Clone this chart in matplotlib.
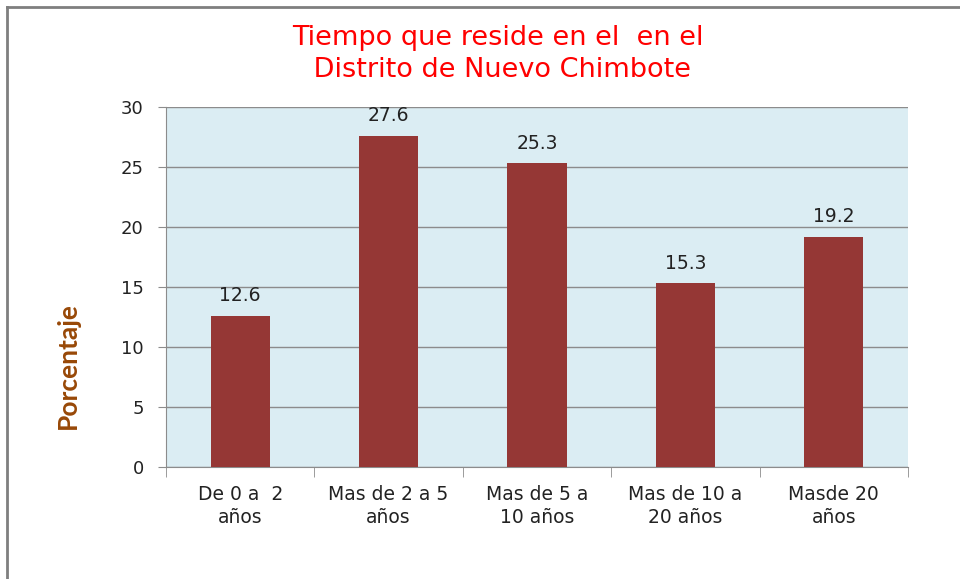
import matplotlib.pyplot as plt
from matplotlib.lines import Line2D

categorias = ["De 0 a  2\naños", "Mas de 2 a 5\naños", "Mas de 5 a\n10 años",
              "Mas de 10 a\n20 años", "Masde 20\naños"]
porcentajes = [12.6, 27.6, 25.3, 15.3, 19.2]
yticks = [0, 5, 10, 15, 20, 25, 30]

fig = plt.figure(figsize=(9.6, 5.79), dpi=100)
ax = fig.add_axes([0.1729, 0.1934, 0.7729, 0.6218])
ax.set_facecolor("#DBEDF3")

x = list(range(len(porcentajes)))
ax.bar(x, porcentajes, width=0.4, color="#953735", zorder=3)
for xi, v in zip(x, porcentajes):
    ax.text(xi, v + 0.9, str(v), ha="center", va="bottom", fontsize=13.5,
            family="DejaVu Sans", color="#222222")

ax.set_xlim(-0.5, len(porcentajes) - 0.5)
ax.set_ylim(0, 30)
ax.set_yticks(yticks)
ax.set_yticklabels([str(t) for t in yticks], fontsize=13, family="DejaVu Sans",
                   color="#222222")
ax.yaxis.grid(True, color="#8C8C8C", linewidth=1, zorder=1)
ax.set_axisbelow(True)

ax.set_xticks(x)
ax.set_xticklabels(categorias, fontsize=13.5, family="DejaVu Sans",
                   linespacing=1.25, color="#222222")
ax.tick_params(axis="x", length=0, pad=13)
ax.set_xticks([i + 0.5 for i in range(-1, len(porcentajes))], minor=True)
ax.tick_params(axis="x", which="minor", length=7, color="#8C8C8C")
ax.tick_params(axis="y", length=6, color="#8C8C8C", pad=10)

for s in ["top", "right"]:
    ax.spines[s].set_visible(False)
for s in ["left", "bottom"]:
    ax.spines[s].set_color("#8C8C8C")

fig.text(68 / 960, 1 - 366 / 579, "Porcentaje", rotation=90, ha="center",
         va="center", fontsize=19, fontweight="bold", family="Lato",
         color="#984807")

fig.text(0.519, 0.907, "Tiempo que reside en el  en el\n Distrito de Nuevo Chimbote",
         ha="center", va="center", fontsize=19.5, family="DejaVu Sans",
         color="#FF0000", linespacing=1.3)

# marco del grafico
fig.add_artist(Line2D([0.007, 1.0], [0.988, 0.988], color="#7F7F7F", linewidth=2))
fig.add_artist(Line2D([0.007, 0.007], [0.0, 0.988], color="#7F7F7F", linewidth=2))

fig.savefig("out.png", dpi=100)
